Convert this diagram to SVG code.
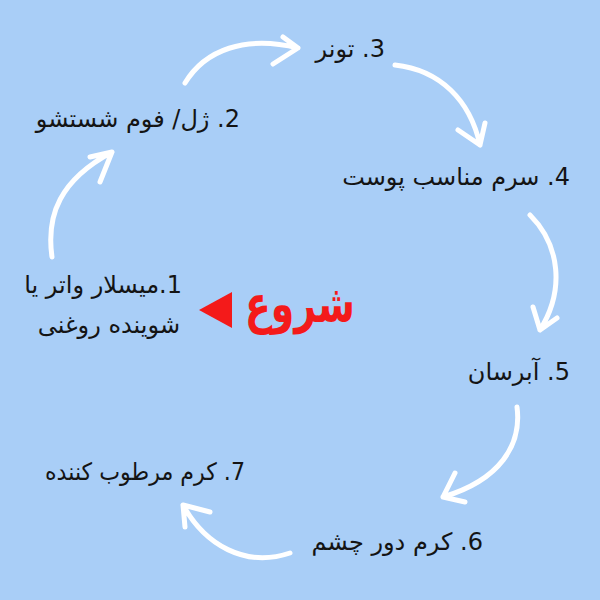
<svg xmlns="http://www.w3.org/2000/svg" width="600" height="600" viewBox="0 0 600 600">
<style>
.lbl{font-family:"DejaVu Sans",sans-serif;font-size:24px;fill:#141414;direction:rtl;text-anchor:start}
.arr{fill:none;stroke:#ffffff;stroke-width:5;stroke-linecap:round;stroke-linejoin:round}
.start{font-family:"DejaVu Sans",sans-serif;font-weight:bold;font-size:52px;fill:#f41a1a;direction:rtl;text-anchor:start}
</style>
<rect x="0" y="0" width="600" height="600" fill="#a9cef7"/>
<g id="connectors">
<path class="arr" d="M52,257 C46,215 60,180 112,152 M90,157 L112,152 L100,182"/>
<path class="arr" d="M185,83 C205,50 245,35 298,48 M283,37 L298,48 L273,64"/>
<path class="arr" d="M395,65 C440,70 470,100 480,145 M458,130 L480,145 L485,123"/>
<path class="arr" d="M530,215 C560,245 565,290 540,330 M533,307 L540,330 L557,318"/>
<path class="arr" d="M517,407 C522,445 500,480 443,497 M455,473 L443,497 L465,502"/>
<path class="arr" d="M290,553 C245,568 205,545 183,505 M210,512 L183,505 L185,527"/>
</g>
<g id="step1"><text class="lbl" x="182" y="293">1.میسلار واتر یا</text><text class="lbl" x="180" y="333">شوینده روغنی</text></g>
<g id="step2"><text class="lbl" x="240" y="127">2. ژل/ فوم شستشو</text></g>
<g id="step3"><text class="lbl" x="385" y="57">3. تونر</text></g>
<g id="step4"><text class="lbl" x="570" y="185">4. سرم مناسب پوست</text></g>
<g id="step5"><text class="lbl" x="570" y="380">5. آبرسان</text></g>
<g id="step6"><text class="lbl" x="483" y="550">6. کرم دور چشم</text></g>
<g id="step7"><text class="lbl" x="245" y="480" textLength="200" lengthAdjust="spacingAndGlyphs">7. کرم مرطوب کننده</text></g>
<g id="start"><text class="start" x="355" y="322" textLength="110" lengthAdjust="spacingAndGlyphs">شروع</text><polygon points="199,310 232,292 232,328" fill="#f41a1a"/></g>
</svg>
